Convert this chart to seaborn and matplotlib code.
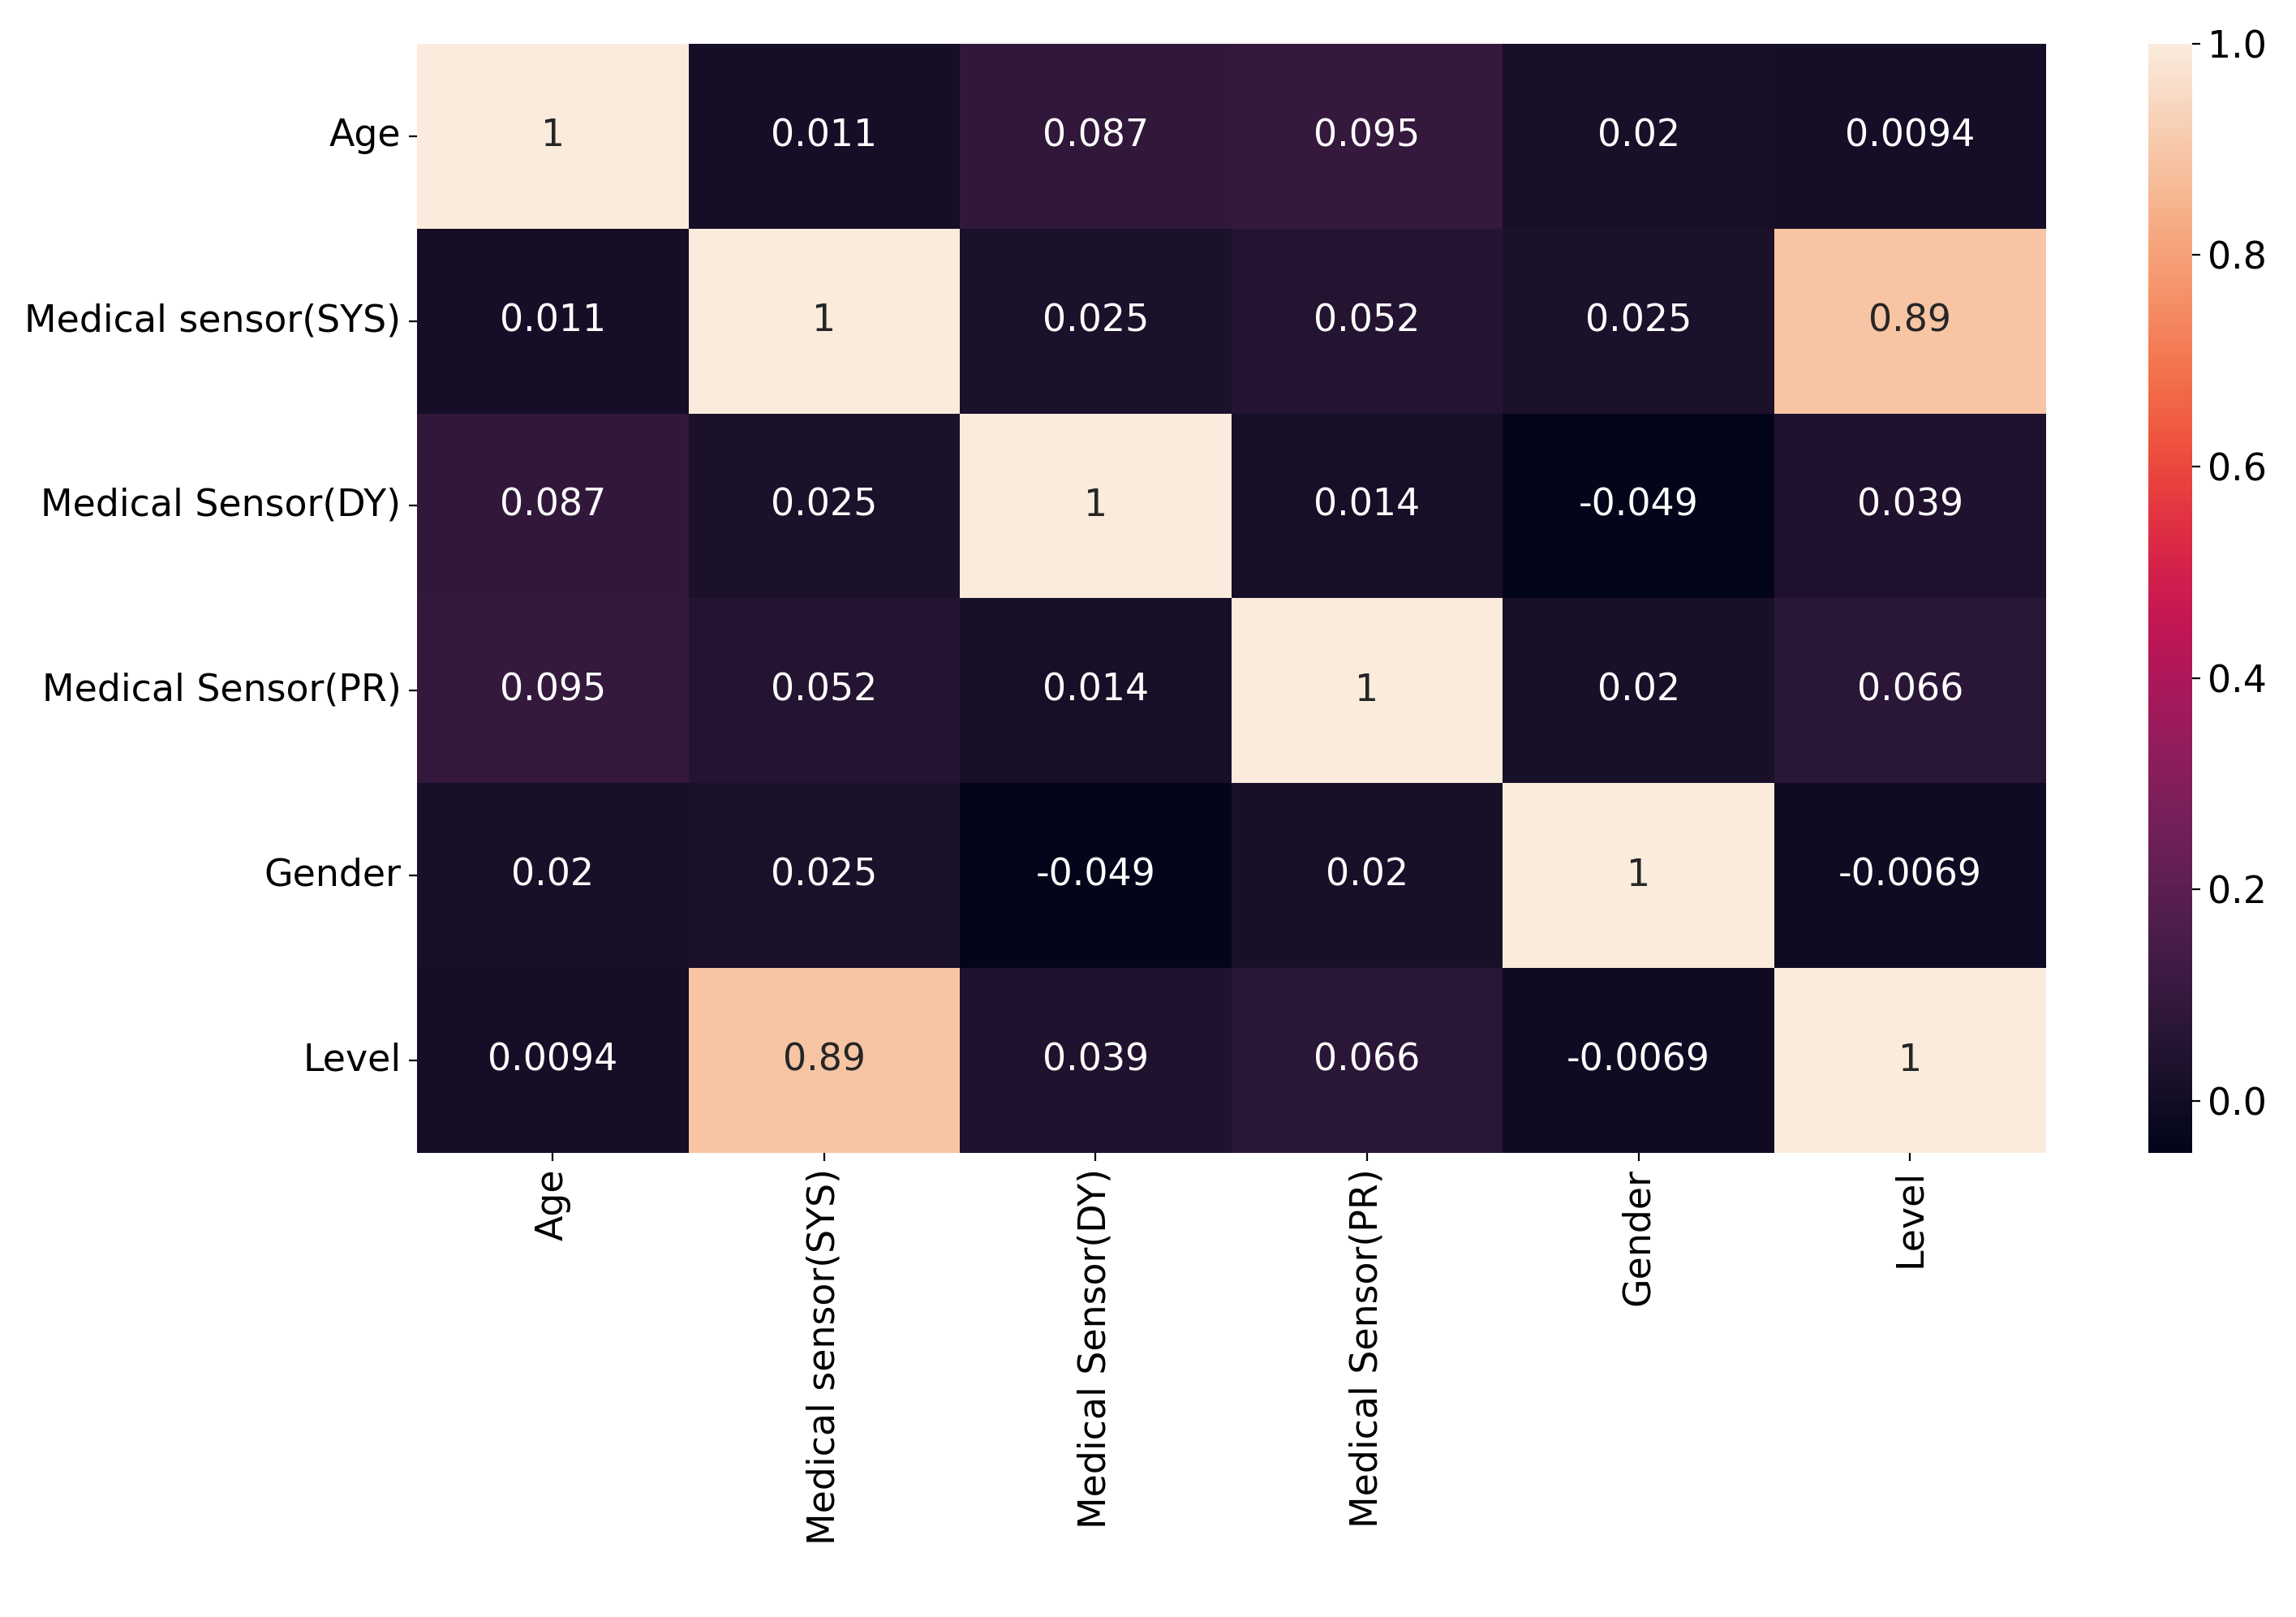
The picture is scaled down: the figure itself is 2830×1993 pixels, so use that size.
"""
Correlation heatmap of sensor features
"""

import numpy as np
import pandas as pd
import matplotlib
matplotlib.use("Agg")
import matplotlib.pyplot as plt
import seaborn as sns

# ==========================================================
# Data
# ==========================================================

features = [
    "Age",
    "Medical sensor(SYS)",
    "Medical Sensor(DY)",
    "Medical Sensor(PR)",
    "Gender",
    "Level",
]

row_age = [1, 0.011, 0.087, 0.095, 0.02, 0.0094]
row_sys = [0.011, 1, 0.025, 0.052, 0.025, 0.89]
row_dy = [0.087, 0.025, 1, 0.014, -0.049, 0.039]
row_pr = [0.095, 0.052, 0.014, 1, 0.02, 0.066]
row_gender = [0.02, 0.025, -0.049, 0.02, 1, -0.0069]
row_level = [0.0094, 0.89, 0.039, 0.066, -0.0069, 1]

corr = pd.DataFrame(
    [row_age, row_sys, row_dy, row_pr, row_gender, row_level],
    index=features,
    columns=features,
)

# ==========================================================
# Plot
# ==========================================================

plt.rcParams["font.size"] = 16.5

fig = plt.figure(figsize=(14.15, 9.965), dpi=200)
ax = fig.add_axes([0.1816, 0.287, 0.7094, 0.686])
cax = fig.add_axes([0.9357, 0.287, 0.019, 0.686])

sns.heatmap(
    corr,
    annot=True,
    ax=ax,
    cbar_ax=cax,
    annot_kws={"fontsize": 16.5},
)

ax.tick_params(labelsize=16.5)
cax.tick_params(labelsize=16.5)

fig.savefig("out.png", dpi=200)
